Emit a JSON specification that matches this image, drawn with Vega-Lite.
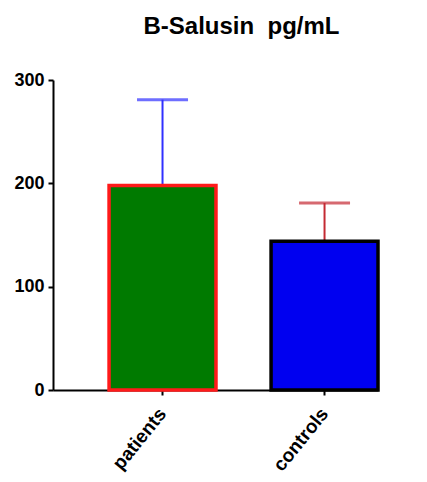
{
  "$schema": "https://vega.github.io/schema/vega-lite/v6.json",
  "width": 325,
  "height": 310,
  "autosize": {"type": "none"},
  "padding": {"left": 53, "top": 80, "right": 49, "bottom": 92},
  "background": "white",
  "config": {"view": {"stroke": null}, "font": "Liberation Sans"},
  "title": {
    "text": "B-Salusin\u00a0 pg/mL",
    "fontSize": 24,
    "fontWeight": "bold",
    "font": "Liberation Sans",
    "color": "black",
    "anchor": "middle",
    "dx": 26,
    "offset": 32
  },
  "data": {
    "values": [
      {"group": "patients", "mean": 198, "upper": 281},
      {"group": "controls", "mean": 144, "upper": 181}
    ]
  },
  "encoding": {
    "x": {
      "field": "group",
      "type": "nominal",
      "sort": ["patients", "controls"],
      "scale": {"paddingInner": 0.34, "paddingOuter": 0.173, "align": 1},
      "axis": {
        "title": null,
        "labelAngle": -51,
        "labelFontSize": 19,
        "labelFontWeight": "bold",
        "labelColor": "black",
        "labelFont": "Liberation Sans",
        "domainColor": "black",
        "domainWidth": 2,
        "tickColor": "black",
        "tickWidth": 2,
        "tickSize": 5,
        "labelPadding": 15
      }
    }
  },
  "layer": [
    {
      "mark": {"type": "rule", "strokeWidth": 2},
      "encoding": {
        "y": {"field": "mean", "type": "quantitative"},
        "y2": {"field": "upper"},
        "stroke": {
          "field": "group",
          "type": "nominal",
          "scale": {"domain": ["patients", "controls"], "range": ["#3030ff", "#c42a33"]},
          "legend": null
        }
      }
    },
    {
      "mark": {"type": "tick", "thickness": 3, "size": 51},
      "encoding": {
        "y": {"field": "upper", "type": "quantitative"},
        "color": {
          "field": "group",
          "type": "nominal",
          "scale": {"domain": ["patients", "controls"], "range": ["#3030ff", "#c42a33"]},
          "legend": null
        }
      }
    },
    {
      "mark": {"type": "bar", "strokeWidth": 3.5, "fillOpacity": 1},
      "encoding": {
        "y": {
          "field": "mean",
          "type": "quantitative",
          "scale": {"domain": [0, 300], "nice": false},
          "axis": {
            "title": null,
            "values": [0, 100, 200, 300],
            "grid": false,
            "labelFontSize": 18,
            "labelFontWeight": "bold",
            "labelColor": "black",
            "labelFont": "Liberation Sans",
            "domainColor": "black",
            "domainWidth": 2,
            "tickColor": "black",
            "tickWidth": 2,
            "tickSize": 5,
            "labelPadding": 4
          }
        },
        "fill": {
          "field": "group",
          "type": "nominal",
          "scale": {"domain": ["patients", "controls"], "range": ["#007a00", "#0000f0"]},
          "legend": null
        },
        "stroke": {
          "field": "group",
          "type": "nominal",
          "scale": {"domain": ["patients", "controls"], "range": ["#ff1a1a", "#000000"]},
          "legend": null
        }
      }
    }
  ],
  "resolve": {"scale": {"stroke": "independent", "color": "independent", "fill": "independent"}}
}
